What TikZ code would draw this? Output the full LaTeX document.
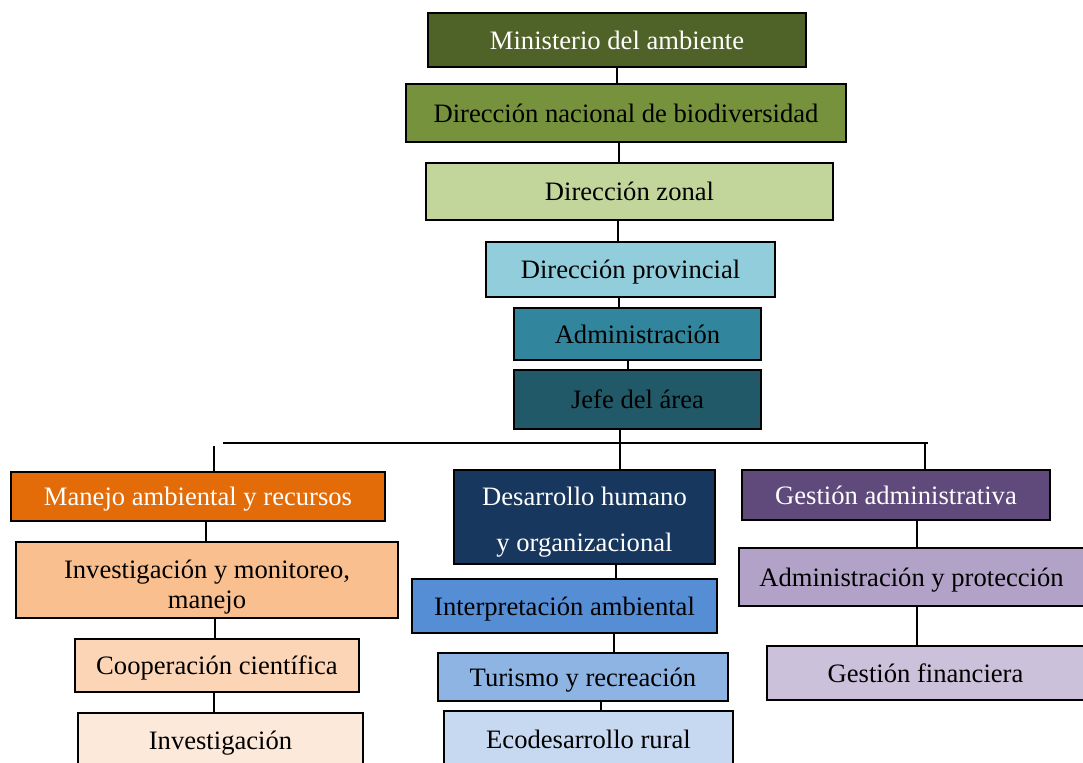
\documentclass[tikz,border=0pt]{standalone}
\usepackage{fontspec}
\setmainfont{Liberation Serif}
\definecolor{cA}{HTML}{4F6228}
\definecolor{cB}{HTML}{76923C}
\definecolor{cC}{HTML}{C2D69B}
\definecolor{cD}{HTML}{92CDDC}
\definecolor{cE}{HTML}{31859C}
\definecolor{cF}{HTML}{215968}
\definecolor{cG}{HTML}{E36C09}
\definecolor{cH}{HTML}{FABF8F}
\definecolor{cI}{HTML}{FBD5B5}
\definecolor{cJ}{HTML}{FDE9D9}
\definecolor{cK}{HTML}{17375E}
\definecolor{cL}{HTML}{558ED5}
\definecolor{cM}{HTML}{8EB4E3}
\definecolor{cN}{HTML}{C6D9F1}
\definecolor{cO}{HTML}{604A7B}
\definecolor{cP}{HTML}{B3A2C7}
\definecolor{cQ}{HTML}{CCC1DA}
\begin{document}
\begin{tikzpicture}[x=0.5pt,y=-0.5pt,
  box/.style={draw=black, line width=1pt, inner sep=0pt, align=center,
    text height=9pt, text depth=0pt,
    font=\fontsize{13.3}{15}\selectfont},
  mbox/.style={draw=black, line width=1pt, inner sep=0pt},
  wt/.style={text=white},
  conn/.style={draw=black, line width=0.8pt}]
\useasboundingbox (0,0) rectangle (1083,762);
\clip (0,0) rectangle (1083,762);
% top chain
\node[box, wt, fill=cA, minimum width=189pt, minimum height=27pt] (min) at (617,40) {Ministerio del ambiente};
\node[box, fill=cB, minimum width=220pt, minimum height=29pt] (dnb) at (626,113) {Dirección nacional de biodiversidad};
\node[box, fill=cC, minimum width=203.5pt, minimum height=28.5pt] (dz) at (629.5,191.5) {Dirección zonal};
\node[box, fill=cD, minimum width=144.5pt, minimum height=27.5pt] (dp) at (630.5,269.5) {Dirección provincial};
\node[box, fill=cE, minimum width=123.5pt, minimum height=26pt] (adm) at (637.5,334) {Administración};
\node[box, fill=cF, minimum width=123.5pt, minimum height=29.5pt] (jefe) at (637.5,399.5) {Jefe del área};
% left column
\node[box, wt, fill=cG, minimum width=187pt, minimum height=24.5pt] (manejo) at (198,496.5) {Manejo ambiental y recursos};
\node[mbox, fill=cH, minimum width=191pt, minimum height=38pt,
  label={[align=center, yshift=-3.5pt, font=\fontsize{13.3}{15}\selectfont]center:Investigación y monitoreo,\\ manejo}] (inv) at (207,580) {};
\node[box, fill=cI, minimum width=142pt, minimum height=26.5pt] (coop) at (217,665.5) {Cooperación científica};
\node[box, fill=cJ, minimum width=142.5pt, minimum height=27pt] (invg) at (220.5,740) {Investigación};
% middle column
\node[mbox, fill=cK, minimum width=130.5pt, minimum height=47pt,
  label={[align=center, yshift=-2.5pt, text=white, font=\fontsize{13.3}{23}\selectfont]center:Desarrollo humano\\ y organizacional}] (des) at (584.5,517) {};
\node[box, fill=cL, minimum width=152.5pt, minimum height=27pt] (interp) at (564.5,606) {Interpretación ambiental};
\node[box, fill=cM, minimum width=145pt, minimum height=24pt] (tur) at (583,677) {Turismo y recreación};
\node[box, fill=cN, minimum width=144.5pt, minimum height=28pt] (eco) at (588.5,739) {Ecodesarrollo rural};
% right column
\node[box, wt, fill=cO, minimum width=154pt, minimum height=25pt] (gadm) at (896,495) {Gestión administrativa};
\node[box, fill=cP, minimum width=172.5pt, minimum height=29pt] (adprot) at (911.5,577) {Administración y protección};
\node[box, fill=cQ, minimum width=158.5pt, minimum height=27pt] (gfin) at (925.5,673) {Gestión financiera};
% connectors top chain
\draw[conn] (min.south) -- (min.south |- dnb.north);
\draw[conn] ([xshift=-3.5pt]dnb.south) -- ([xshift=-3.5pt]dnb.south |- dz.north);
\draw[conn] ([xshift=-5.75pt]dz.south) -- ([xshift=-5.75pt]dz.south |- dp.north);
\draw[conn] ([xshift=-5.75pt]dp.south) -- ([xshift=-5.75pt]dp.south |- adm.north);
\draw[conn] ([xshift=-4.75pt]adm.south) -- ([xshift=-4.75pt]adm.south |- jefe.north);
\draw[conn] ([xshift=-8.75pt]jefe.south) -- ([xshift=-8.75pt]jefe.south |- des.north);
% bus
\coordinate (busL) at (223,443);
\coordinate (busR) at (928,443);
\coordinate (dropL) at (214,446);
\coordinate (dropR) at (925,443);
\draw[conn] (busL) -- (busR);
\draw[conn] (dropL) -- (dropL |- manejo.north);
\draw[conn] (dropR) -- (dropR |- gadm.north);
% left column
\draw[conn] ([xshift=4pt]manejo.south) -- ([xshift=4pt]manejo.south |- inv.north);
\draw[conn] ([xshift=4pt]inv.south) -- ([xshift=4pt]inv.south |- coop.north);
\draw[conn] ([xshift=-1.5pt]coop.south) -- ([xshift=-1.5pt]coop.south |- invg.north);
% middle column
\draw[conn] ([xshift=15.75pt]des.south) -- ([xshift=15.75pt]des.south |- interp.north);
\draw[conn] ([xshift=24.75pt]interp.south) -- ([xshift=24.75pt]interp.south |- tur.north);
\draw[conn] ([xshift=9pt]tur.south) -- ([xshift=9pt]tur.south |- eco.north);
% right column
\draw[conn] ([xshift=10.5pt]gadm.south) -- ([xshift=10.5pt]gadm.south |- adprot.north);
\draw[conn] ([xshift=2.75pt]adprot.south) -- ([xshift=2.75pt]adprot.south |- gfin.north);
\end{tikzpicture}
\end{document}
